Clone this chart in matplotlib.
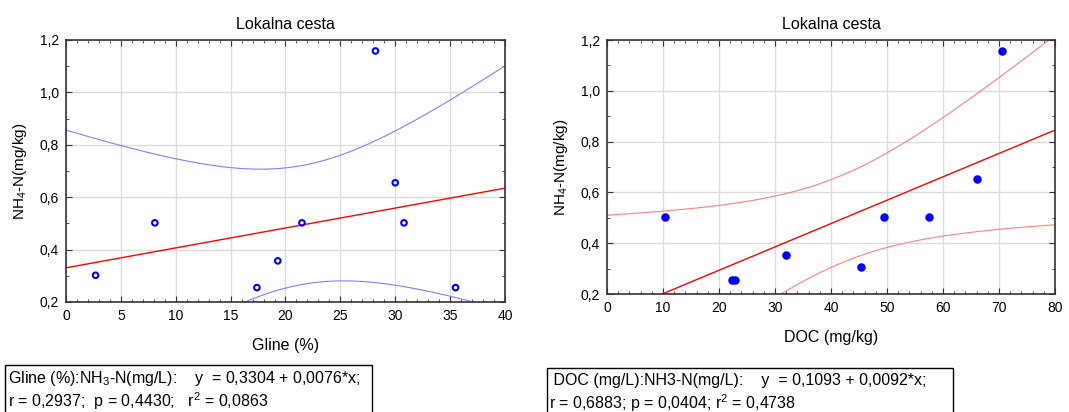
import numpy as np
import matplotlib.pyplot as plt
from matplotlib.patches import Rectangle
from matplotlib.ticker import MultipleLocator, FuncFormatter

plt.rcParams['font.family'] = ['Liberation Sans', 'DejaVu Sans']
plt.rcParams['mathtext.default'] = 'regular'

# values
gline_x = [2.7, 8.1, 17.4, 19.3, 21.5, 28.2, 30.0, 30.8, 35.5]
gline_y = [0.302, 0.502, 0.255, 0.357, 0.502, 1.158, 0.655, 0.502, 0.255]
doc_x = [10.3, 22.4, 22.9, 31.9, 45.3, 49.5, 57.5, 66.0, 70.5]
doc_y = [0.504, 0.256, 0.256, 0.355, 0.306, 0.504, 0.504, 0.652, 1.157]

# regression coefficients printed under each chart
gline_coef = (0.3304, 0.0076)
doc_coef = (0.1093, 0.0092)
T_95 = 2.3646  # t(0.975, df=7)

title = "Lokalna cesta"
ylabel = "NH$_4$-N(mg/kg)"
gline_stats = ["Gline (%):NH$_3$-N(mg/L):    y  = 0,3304 + 0,0076*x;",
               "r = 0,2937;  p = 0,4430;   r$^2$ = 0,0863"]
doc_stats = [" DOC (mg/L):NH3-N(mg/L):    y  = 0,1093 + 0,0092*x;",
             "r = 0,6883; p = 0,0404; r$^2$ = 0,4738"]


def comma(v, pos):
    return ("%.1f" % v).replace(".", ",")


def conf_band(x, y, coef, xs):
    x = np.asarray(x)
    y = np.asarray(y)
    b0, b1 = coef
    n = len(x)
    resid = y - (b0 + b1 * x)
    s = np.sqrt(np.sum(resid ** 2) / (n - 2))
    sxx = np.sum((x - x.mean()) ** 2)
    half = T_95 * s * np.sqrt(1.0 / n + (xs - x.mean()) ** 2 / sxx)
    fit = b0 + b1 * xs
    return fit, fit - half, fit + half


def style_axes(ax, xmax, xmajor, xminor):
    ax.set_xlim(0, xmax)
    ax.set_ylim(0.2, 1.2)
    ax.xaxis.set_major_locator(MultipleLocator(xmajor))
    ax.xaxis.set_minor_locator(MultipleLocator(xminor))
    ax.yaxis.set_major_locator(MultipleLocator(0.2))
    ax.yaxis.set_minor_locator(MultipleLocator(0.1))
    ax.yaxis.set_major_formatter(FuncFormatter(comma))
    ax.tick_params(which="both", direction="in", top=True, right=True,
                   labelsize=10, colors="#333333", labelcolor="black")
    ax.tick_params(which="major", length=4, pad=5)
    ax.tick_params(which="minor", length=2.5)
    ax.grid(True, which="major", color="#dcdcdc", lw=1)
    ax.set_axisbelow(True)
    for sp in ax.spines.values():
        sp.set_color("#333333")
        sp.set_linewidth(1.2)
    ax.set_title(title, fontsize=11.5, pad=8)
    ax.set_ylabel(ylabel, fontsize=11, labelpad=8)


fig = plt.figure(figsize=(10.69, 4.12), dpi=100)

# left panel
ax1 = fig.add_axes([0.0617, 0.267, 0.4107, 0.636])
xs = np.linspace(0, 40, 200)
fit, lo, hi = conf_band(gline_x, gline_y, gline_coef, xs)
ax1.plot(xs, lo, color="#8080ff", lw=0.8)
ax1.plot(xs, hi, color="#8080ff", lw=0.8)
ax1.plot(xs, fit, color="#ff0000", lw=1.0)
ax1.scatter(gline_x, gline_y, s=16, facecolors="none", edgecolors="#0000ff",
            linewidths=1.5, zorder=3, clip_on=False)
style_axes(ax1, 40, 5, 1)
ax1.set_xlabel("Gline (%)", fontsize=11.5, labelpad=11)

# right panel
ax2 = fig.add_axes([0.5678, 0.2864, 0.4191, 0.6165])
xs = np.linspace(0, 80, 200)
fit, lo, hi = conf_band(doc_x, doc_y, doc_coef, xs)
ax2.plot(xs, lo, color="#ff8080", lw=0.8)
ax2.plot(xs, hi, color="#ff8080", lw=0.8)
ax2.plot(xs, fit, color="#ff0000", lw=1.0)
ax2.scatter(doc_x, doc_y, s=26, color="#0000ff", zorder=3, clip_on=False)
style_axes(ax2, 80, 10, 2)
ax2.set_xlabel("DOC (mg/kg)", fontsize=11.5, labelpad=11)

# statistics boxes
fig.add_artist(Rectangle((5 / 1069, -0.05), 367 / 1069, 0.05 + 47 / 412,
                         transform=fig.transFigure, fill=False,
                         edgecolor="black", lw=1.0))
fig.text(8 / 1069, 1 - 378 / 412, gline_stats[0], fontsize=11.5, va="center")
fig.text(8 / 1069, 1 - 401 / 412, gline_stats[1], fontsize=11.5, va="center")

fig.add_artist(Rectangle((547 / 1069, -0.05), 406 / 1069, 0.05 + 44 / 412,
                         transform=fig.transFigure, fill=False,
                         edgecolor="black", lw=1.0))
fig.text(549 / 1069, 1 - 380 / 412, doc_stats[0], fontsize=11.5, va="center")
fig.text(549 / 1069, 1 - 403 / 412, doc_stats[1], fontsize=11.5, va="center")

fig.savefig("out.png", dpi=100)
